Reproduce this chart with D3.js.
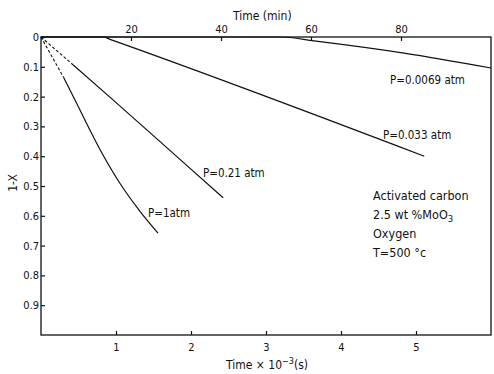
<!DOCTYPE html>
<html>
<head>
<meta charset="utf-8">
<script src="https://cdn.jsdelivr.net/npm/d3@7"></script>
<style>
    body { margin: 0; background: #fff; }
    text { font-family: "DejaVu Sans Condensed", "DejaVu Sans", sans-serif; font-size: 11.5px; fill: #111; }
</style>
</head>
<body>
<div id="chart-container"></div>
<script>
/*
    1-X vs time, activated carbon + 2.5 wt% MoO3, oxygen, 500 C
 */

// time in 10^3 s, value is 1-X
var p1_time = [0, 0.30, 0.45, 0.79, 1.05, 1.32, 1.56];
var p1_value = [0, 0.135, 0.21, 0.379, 0.49, 0.585, 0.658];

var p021_time = [0, 0.43, 0.96, 1.89, 2.43];
var p021_value = [0, 0.094, 0.211, 0.419, 0.54];

var p0033_time = [0, 0.83, 0.92, 5.11];
var p0033_value = [0, 0, 0.008, 0.40];

var p00069_time = [0, 3.2, 3.64, 4.84, 6.0];
var p00069_value = [0, 0, 0.013, 0.054, 0.104];

var series_names = ['P=1atm', 'P=0.21 atm', 'P=0.033 atm', 'P=0.0069 atm'];
// number of leading points joined by a dashed line
var series_dashed = [2, 2, 0, 0];

var bottom_ticks = [1, 2, 3, 4, 5];
var top_ticks = [20, 40, 60, 80];
var left_ticks = [0, 0.1, 0.2, 0.3, 0.4, 0.5, 0.6, 0.7, 0.8, 0.9];

var note_lines = ['Activated carbon', '2.5 wt %MoO', 'Oxygen', 'T=500 °c'];

var svg_size = {
    'width': 494,
    'height': 374
};

var frame = {
    'left': 41,
    'top': 37,
    'right': 491,
    'bottom': 335
};

var label_pos = [
    {'x': 148, 'y': 217},
    {'x': 203, 'y': 177},
    {'x': 383, 'y': 139},
    {'x': 390, 'y': 84}
];

var svg = d3.select("#chart-container")
    .append("svg")
    .attr('width', svg_size.width)
    .attr('height', svg_size.height);

var x_scale = d3.scaleLinear()
    .domain([0, 6])
    .range([frame.left, frame.right]);

// 100 min = 6000 s
var x_min_scale = d3.scaleLinear()
    .domain([0, 100])
    .range([frame.left, frame.right]);

var y_scale = d3.scaleLinear()
    .domain([0, 1])
    .range([frame.top, frame.bottom]);

// axes, ticks pointing inside
var bottom_axis = d3.axisBottom(x_scale)
    .tickValues(bottom_ticks)
    .tickFormat(d3.format('d'))
    .tickSizeInner(-4)
    .tickSizeOuter(0)
    .tickPadding(8);

svg.append('g')
    .attr('transform', 'translate(0,' + frame.bottom + ')')
    .classed('axis', true)
    .call(bottom_axis);

var top_axis = d3.axisTop(x_min_scale)
    .tickValues(top_ticks)
    .tickFormat(d3.format('d'))
    .tickSizeInner(-4)
    .tickSizeOuter(0)
    .tickPadding(4);

svg.append('g')
    .attr('transform', 'translate(0,' + frame.top + ')')
    .classed('axis', true)
    .call(top_axis);

var left_axis = d3.axisLeft(y_scale)
    .tickValues(left_ticks)
    .tickFormat(function(d){ return d === 0 ? '0' : d3.format('.1f')(d); })
    .tickSizeInner(-4)
    .tickSizeOuter(0)
    .tickPadding(2);

svg.append('g')
    .attr('transform', 'translate(' + frame.left + ',0)')
    .classed('axis', true)
    .call(left_axis);

svg.selectAll('.axis .domain').remove();
svg.selectAll('.axis .tick line')
    .style('stroke', '#111')
    .style('stroke-width', 1.2);
svg.selectAll('.axis .tick text')
    .style('font-family', '"DejaVu Sans Condensed", "DejaVu Sans", sans-serif')
    .style('font-size', '11px')
    .style('fill', '#111');

// frame
svg.append('rect')
    .attr('x', frame.left)
    .attr('y', frame.top)
    .attr('width', frame.right - frame.left)
    .attr('height', frame.bottom - frame.top)
    .style('fill', 'none')
    .style('stroke', '#111')
    .style('stroke-width', 1.3);

// curves
var series_data = [
    d3.zip(p1_time, p1_value),
    d3.zip(p021_time, p021_value),
    d3.zip(p0033_time, p0033_value),
    d3.zip(p00069_time, p00069_value)
];

var line = d3.line()
    .x(function(d){ return x_scale(d[0]); })
    .y(function(d){ return y_scale(d[1]); })
    .curve(d3.curveMonotoneX);

var straight = d3.line()
    .x(function(d){ return x_scale(d[0]); })
    .y(function(d){ return y_scale(d[1]); });

var curve_group = svg.append('g');

series_data.forEach(function(points, i){
    var n_dash = series_dashed[i];
    if (n_dash > 1) {
        curve_group.append('path')
            .attr('d', straight(points.slice(0, n_dash)))
            .style('fill', 'none')
            .style('stroke', '#111')
            .style('stroke-width', 1.1)
            .style('stroke-dasharray', '3,2');
    }
    curve_group.append('path')
        .attr('d', line(points.slice(Math.max(n_dash - 1, 0))))
        .style('fill', 'none')
        .style('stroke', '#111')
        .style('stroke-width', 1.2);
});

// curve labels
svg.selectAll('.curve-label')
    .data(series_names)
    .enter()
    .append('text')
    .classed('curve-label', true)
    .attr('x', function(d, i){ return label_pos[i].x; })
    .attr('y', function(d, i){ return label_pos[i].y; })
    .text(function(d){ return d; });

// axis titles
svg.append('text')
    .attr('x', 233)
    .attr('y', 20)
    .style('font-size', '12px')
    .text('Time  (min)');

var bottom_title = svg.append('text')
    .attr('x', 226)
    .attr('y', 369)
    .style('font-size', '12px');
bottom_title.append('tspan').text('Time × 10');
bottom_title.append('tspan')
    .attr('dy', -5)
    .style('font-size', '9px')
    .text('−3');
bottom_title.append('tspan')
    .attr('dy', 5)
    .text('(s)');

svg.append('text')
    .attr('transform', 'translate(13,183) rotate(-90)')
    .attr('text-anchor', 'middle')
    .attr('dominant-baseline', 'central')
    .style('font-size', '12px')
    .text('1-X');

// conditions note
var note = svg.append('g')
    .attr('transform', 'translate(373,200)');

note.selectAll('text')
    .data(note_lines)
    .enter()
    .append('text')
    .attr('x', 0)
    .attr('y', function(d, i){ return 19 * i; })
    .style('font-size', '12.5px')
    .text(function(d){ return d; })
    .filter(function(d, i){ return i === 1; })
    .append('tspan')
    .attr('dy', 3)
    .style('font-size', '9.5px')
    .text('3');
</script>
</body>
</html>
